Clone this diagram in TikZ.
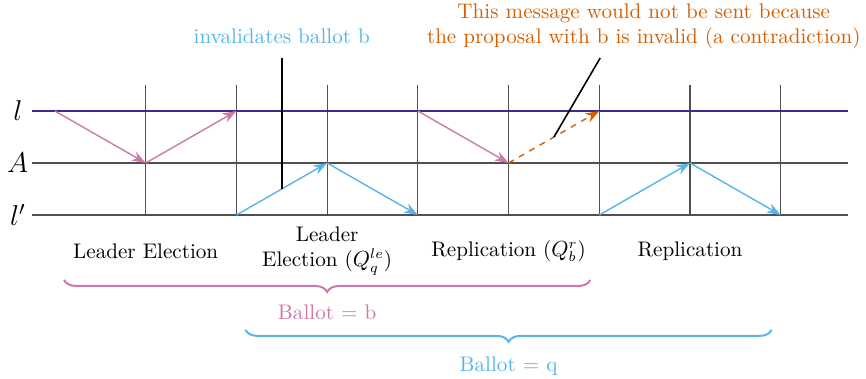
\documentclass[tikz,border=0pt]{standalone}
\usepackage{amsmath}
\usetikzlibrary{arrows.meta,decorations.pathreplacing}

\definecolor{ballotb}{RGB}{204,121,167}
\definecolor{ballotq}{RGB}{86,180,233}
\definecolor{contra}{RGB}{213,94,0}
\definecolor{leaderline}{RGB}{55,45,140}
\definecolor{gridgray}{RGB}{80,80,80}

\tikzset{
  msgb/.style={ballotb, line width=0.7pt, -{Stealth[length=7pt,width=5pt]}},
  msgq/.style={ballotq, line width=0.7pt, -{Stealth[length=7pt,width=5pt]}},
  msgx/.style={contra, line width=0.7pt, dashed, -{Stealth[length=7pt,width=5pt]}},
  pinline/.style={black, thick},
  gridline/.style={gridgray, line width=0.6pt},
  phase/.style={inner sep=1pt, align=center},
  ballotbrace/.style={decorate, decoration={brace, mirror, amplitude=6pt}, line width=1pt},
}

\begin{document}
\begin{tikzpicture}[x=1.6cm, y=0.917cm, font=\fontsize{10.6}{12.6}\selectfont]
    \useasboundingbox (-0.606,-3.135) rectangle (8.94,4.135);

    % grid points on the three lines
    \foreach \i in {0,...,8} {
        \coordinate (l\i) at (\i,2);
        \coordinate (a\i) at (\i,1);
        \coordinate (p\i) at (\i,0);
    }

    % vertical time steps
    \foreach \i in {1,...,8}
        \draw[gridline] (p\i) -- (\i,2.5);

    % horizontal lines
    \draw[gridline, leaderline] (-0.25,2) -- (8.74,2);
    \draw[gridline] (-0.25,1) -- (8.74,1);
    \draw[gridline] (-0.25,0) -- (8.74,0);
    \node[font=\Large] (lbl) at (-0.41,2) {$l$};
    \node[font=\Large] (lba) at (-0.41,1) {$A$};
    \node[font=\Large] (lblp) at (-0.41,0) {$l'$};

    % Leader Election (ballot b)
    \draw[msgb] (l0) -- (a1);
    \draw[msgb] (a1) -- (l2);

    % Leader Election (ballot q)
    \draw[msgq] (p2) -- coordinate[pos=0.5] (invmid) (a3);
    \draw[msgq] (a3) -- (p4);

    % Replication (ballot b)
    \draw[msgb] (l4) -- (a5);
    \draw[msgx] (a5) -- coordinate[pos=0.5] (xmid) (l6);

    % Replication (ballot q)
    \draw[msgq] (p6) -- (a7);
    \draw[msgq] (a7) -- (p8);

    % notes
    \node[ballotq] (invtxt) at (2.5,3.44) {invalidates ballot b};
    \coordinate (invtop) at (2.5,3.02);
    \draw[pinline] (invmid) -- (invtop);

    \node[contra, align=center] (xtxt) at (6.49,3.63)
        {This message would not be sent because\\the proposal with b is invalid (a contradiction)};
    \coordinate (xtop) at (6.01,3.02);
    \draw[pinline] (xmid) -- (xtop);

    % phases
    \node[phase] (ph1) at (1,-0.69) {Leader Election};
    \node[phase] (ph2) at (3,-0.69) {Leader\\Election ($Q_q^{le}$)};
    \node[phase] (ph3) at (5,-0.69) {Replication ($Q_b^r$)};
    \node[phase] (ph4) at (7,-0.69) {Replication};

    % ballots
    \draw[ballotbrace, ballotb] (0.1,-1.25) -- (5.9,-1.25);
    \node[ballotb] (balb) at (3,-1.87) {Ballot = b};
    \draw[ballotbrace, ballotq] (2.1,-2.21) -- (7.9,-2.21);
    \node[ballotq] (balq) at (5,-2.90) {Ballot = q};
\end{tikzpicture}
\end{document}
